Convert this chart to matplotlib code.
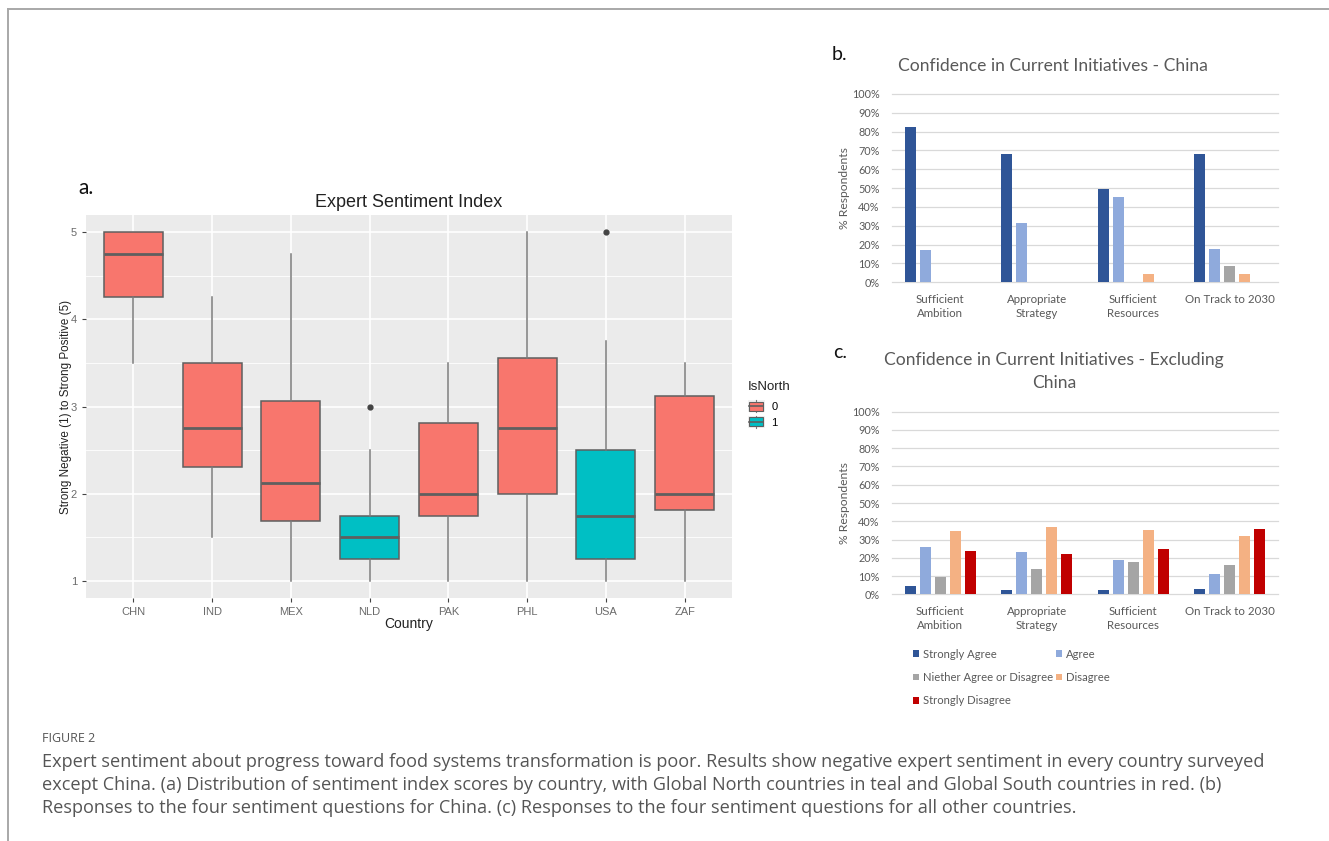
import matplotlib
matplotlib.use("Agg")
import matplotlib.pyplot as plt
from matplotlib.lines import Line2D
from matplotlib.patches import Rectangle, Patch
from matplotlib.legend_handler import HandlerBase
import numpy as np

# ---------------- data ----------------
countries = ["CHN", "IND", "MEX", "NLD", "PAK", "PHL", "USA", "ZAF"]
is_north = [0, 0, 0, 1, 0, 0, 1, 0]
whisker_low = [3.5, 1.5, 1.0, 1.0, 1.0, 1.0, 1.0, 1.0]
q1 = [4.25, 2.31, 1.69, 1.25, 1.75, 2.0, 1.25, 1.81]
median = [4.75, 2.75, 2.125, 1.5, 2.0, 2.75, 1.75, 2.0]
q3 = [5.0, 3.5, 3.06, 1.75, 2.81, 3.56, 2.5, 3.125]
whisker_high = [5.0, 4.25, 4.75, 2.5, 3.5, 5.0, 3.75, 3.5]
outliers = [[], [], [], [3.0], [], [], [5.0], []]

questions = ["Sufficient\nAmbition", "Appropriate\nStrategy", "Sufficient\nResources", "On Track to 2030"]
responses = ["Strongly Agree", "Agree", "Niether Agree or Disagree", "Disagree", "Strongly Disagree"]
china_strongly_agree = [82.3, 68.0, 49.8, 68.0]
china_agree = [16.9, 31.5, 45.3, 17.8]
china_neither = [0, 0, 0, 8.8]
china_disagree = [0, 0, 4.5, 4.5]
china_strongly_disagree = [0, 0, 0, 0]
excl_strongly_agree = [4.7, 2.4, 2.4, 2.9]
excl_agree = [26.1, 23.0, 19.0, 11.3]
excl_neither = [9.7, 14.0, 17.5, 16.2]
excl_disagree = [34.5, 36.9, 35.0, 31.8]
excl_strongly_disagree = [23.5, 21.9, 24.6, 36.0]
pct_ticks = [0, 10, 20, 30, 40, 50, 60, 70, 80, 90, 100]

caption_head = "FIGURE 2"
caption_lines = [
    "Expert sentiment about progress toward food systems transformation is poor. Results show negative expert sentiment in every country surveyed",
    "except China. (a) Distribution of sentiment index scores by country, with Global North countries in teal and Global South countries in red. (b)",
    "Responses to the four sentiment questions for China. (c) Responses to the four sentiment questions for all other countries.",
]

# ---------------- styles ----------------
W, H = 1329, 841
fig = plt.figure(figsize=(W / 100, H / 100), dpi=100)
fig.patch.set_facecolor("white")

def ax_rect(l, t, r, b):
    return [l / W, 1 - b / H, (r - l) / W, (b - t) / H]

RED, TEAL = "#F8766D", "#00BFC4"
BOXLINE = "#5f5f5f"
GG = "Liberation Sans"
OFF = "Lato"

# border of figure box
fig.add_artist(Line2D([8 / W, 1], [1 - 9 / H, 1 - 9 / H], color="#a8a8a8", lw=1.4))
fig.add_artist(Line2D([8 / W, 8 / W], [0, 1 - 9 / H], color="#a8a8a8", lw=1.4))

# ---------------- panel a ----------------
axa = fig.add_axes(ax_rect(86, 215, 732, 598))
axa.set_facecolor("#EBEBEB")
for s in axa.spines.values():
    s.set_visible(False)

stats = []
for i, c in enumerate(countries):
    stats.append(dict(label=c, whislo=whisker_low[i], q1=q1[i], med=median[i], q3=q3[i],
                      whishi=whisker_high[i], fliers=outliers[i]))
positions = list(range(1, len(countries) + 1))
bp = axa.bxp(stats, positions=positions, widths=0.75, patch_artist=True,
             showcaps=False, manage_ticks=False,
             boxprops=dict(edgecolor=BOXLINE, lw=1.1),
             whiskerprops=dict(color="#7a7a7a", lw=1.1),
             medianprops=dict(color=BOXLINE, lw=2.0),
             flierprops=dict(marker="o", markerfacecolor="#444444", markeredgecolor="#444444", markersize=3.5))
for patch, n in zip(bp["boxes"], is_north):
    patch.set_facecolor(TEAL if n else RED)

axa.set_xlim(0.4, 8.6)
axa.set_ylim(1 - 17 / 87.25, 5 + 17 / 87.25)
axa.set_yticks([1, 2, 3, 4, 5])
axa.set_yticks([1.5, 2.5, 3.5, 4.5], minor=True)
axa.set_xticks(positions)
axa.set_xticklabels(countries)
axa.grid(True, which="major", color="white", lw=1.2)
axa.grid(True, which="minor", axis="y", color="white", lw=0.6)
axa.set_axisbelow(True)
axa.tick_params(which="major", colors="#444444", labelcolor="#6b6b6b", labelsize=8, length=3, width=0.8)
axa.tick_params(which="minor", length=0)
for t in axa.get_xticklabels() + axa.get_yticklabels():
    t.set_fontfamily(GG)

axa.set_title("Expert Sentiment Index", fontfamily=GG, fontsize=13, color="#222222", pad=6)
axa.set_xlabel("Country", fontfamily=GG, fontsize=10, color="#222222", labelpad=0)
axa.set_ylabel("Strong Negative (1) to Strong Positive (5)", fontfamily=GG, fontsize=8.4,
               color="#222222", labelpad=-1)
fig.text(78 / W, 1 - 188 / H, "a.", fontfamily=OFF, fontsize=15, color="#111111", va="center", ha="left")


class BoxKey(HandlerBase):
    def create_artists(self, legend, orig, xd, yd, width, height, fontsize, trans):
        w = width * 0.85
        hh = height * 0.78
        x0 = -xd + (width - w) / 2
        y0 = -yd + (height - hh) / 2
        bg = Rectangle((-xd, -yd), width, height, facecolor="#F2F2F2", edgecolor="none", transform=trans)
        wl = Line2D([-xd + width / 2] * 2, [-yd, -yd + height], color="#7a7a7a", lw=0.8, transform=trans)
        r = Rectangle((x0, y0), w, hh, facecolor=orig.get_facecolor(), edgecolor=BOXLINE, lw=0.8, transform=trans)
        m = Line2D([x0, x0 + w], [y0 + hh / 2] * 2, color=BOXLINE, lw=1.2, transform=trans)
        return [bg, wl, r, m]

handles = [Patch(facecolor=RED, label="0"), Patch(facecolor=TEAL, label="1")]
leg = axa.legend(handles=handles, title="IsNorth", loc="center left", bbox_to_anchor=(1.018, 0.505),
                 frameon=False, handler_map={Patch: BoxKey()}, handlelength=1.5, handleheight=1.25,
                 fontsize=8, title_fontsize=9.5, labelspacing=0.35, handletextpad=0.6, borderaxespad=0)
leg._legend_box.align = "left"
leg._legend_box.sep = 5
for t in leg.get_texts():
    t.set_fontfamily(GG)
leg.get_title().set_fontfamily(GG)
leg.get_title().set_color("#222222")

# ---------------- panels b, c ----------------
colors = ["#2F5597", "#8FAADC", "#A5A5A5", "#F4B183", "#C00000"]
stride, bw = 0.155, 0.114

def bar_panel(ax, series):
    x = np.arange(len(questions))
    for k, (vals, col) in enumerate(zip(series, colors)):
        ax.bar(x + (k - 2) * stride, vals, width=bw, color=col, label=responses[k], zorder=3)
    ax.set_xlim(-0.5, len(questions) - 0.5)
    ax.set_ylim(0, 100)
    for s in ax.spines.values():
        s.set_visible(False)
    for v in pct_ticks:
        ax.axhline(v, color="#D9D9D9", lw=0.9, zorder=1, clip_on=False)
    ax.set_yticks(pct_ticks)
    ax.set_yticklabels([f"{v}%" for v in pct_ticks])
    ax.set_xticks(x)
    ax.set_xticklabels(questions, linespacing=1.35)
    ax.tick_params(axis="y", length=0, pad=9, labelsize=7.8, labelcolor="#595959")
    ax.tick_params(axis="x", length=0, pad=8.5, labelsize=8.3, labelcolor="#595959")
    for t in ax.get_xticklabels() + ax.get_yticklabels():
        t.set_fontfamily(OFF)
    ax.set_ylabel("% Respondents", fontfamily=OFF, fontsize=8.7, color="#595959", labelpad=1)

axb = fig.add_axes(ax_rect(892, 94, 1278, 282.3))
bar_panel(axb, [china_strongly_agree, china_agree, china_neither, china_disagree, china_strongly_disagree])
fig.text(1053 / W, 1 - 66 / H, "Confidence in Current Initiatives - China", fontfamily=OFF, fontsize=12.6,
         color="#595959", ha="center", va="center")
fig.text(832 / W, 1 - 55 / H, "b.", fontfamily=OFF, fontsize=14, color="#111111", va="center", ha="left")

axc = fig.add_axes(ax_rect(892, 411.7, 1278, 594.3))
bar_panel(axc, [excl_strongly_agree, excl_agree, excl_neither, excl_disagree, excl_strongly_disagree])
fig.text(1054 / W, 1 - 360 / H, "Confidence in Current Initiatives - Excluding", fontfamily=OFF, fontsize=12.6,
         color="#595959", ha="center", va="center")
fig.text(1054 / W, 1 - 383 / H, "China", fontfamily=OFF, fontsize=12.6,
         color="#595959", ha="center", va="center")
fig.text(833 / W, 1 - 352 / H, "c.", fontfamily=OFF, fontsize=14, color="#111111", va="center", ha="left")

h, l = axc.get_legend_handles_labels()
order = [0, 2, 4, 1, 3]
legc = axc.legend([h[i] for i in order], [l[i] for i in order], ncol=2, loc="upper left",
                  bbox_to_anchor=(21 / 386, -0.297), frameon=False, fontsize=8.1,
                  handlelength=0.55, handleheight=0.55, handletextpad=0.35, columnspacing=0.25,
                  labelspacing=1.1, borderaxespad=0, borderpad=0)
for t in legc.get_texts():
    t.set_fontfamily(OFF)
    t.set_color("#595959")

# ---------------- caption ----------------
fig.text(42 / W, 1 - 738 / H, caption_head, fontfamily="Open Sans", fontsize=9, color="#555555",
         va="center", ha="left")
for i, line in enumerate(caption_lines):
    fig.text(42 / W, 1 - (762 + 23 * i) / H, line, fontfamily="Open Sans", fontsize=13.1,
             color="#555555", va="center", ha="left")

fig.savefig("out.png", dpi=100, facecolor="white")
